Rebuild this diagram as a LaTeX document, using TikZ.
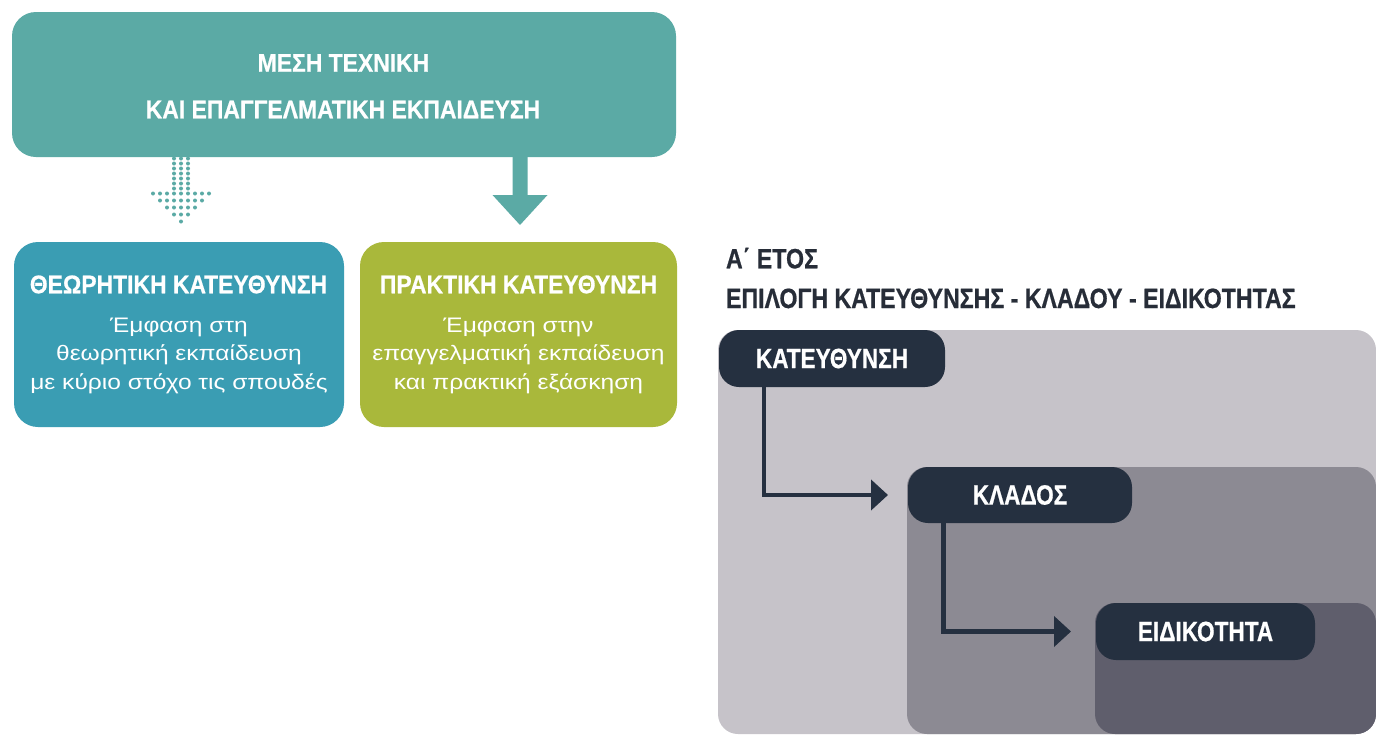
\documentclass[tikz,border=0pt]{standalone}
\usepackage{fontspec}
\setmainfont{Liberation Sans}
\newfontfamily\capsA{Liberation Sans}[FakeStretch=0.895,FakeBold=0.6]
\newfontfamily\capsB{Liberation Sans}[FakeStretch=0.83,FakeBold=0.6]
\newfontfamily\capsC{Liberation Sans}[FakeStretch=0.81,FakeBold=0.6]
\newfontfamily\bodyf{Liberation Sans}[FakeStretch=1.17]
\usetikzlibrary{arrows.meta}
\definecolor{topteal}{HTML}{5BAAA5}
\definecolor{theoblue}{HTML}{3A9DB3}
\definecolor{pracgreen}{HTML}{A9B83B}
\definecolor{darkbox}{HTML}{253040}
\definecolor{hdrtext}{HTML}{272D38}
\definecolor{panA}{HTML}{C6C3C9}
\definecolor{panB}{HTML}{8C8A93}
\definecolor{panC}{HTML}{5F5E6C}
\begin{document}
\begin{tikzpicture}[x=1pt,y=-1pt,
  every node/.style={inner sep=0pt, outer sep=0pt},
  cbox/.style={rounded corners=24pt, anchor=north west},
  ttl/.style={text=white, font=\capsA\bfseries\fontsize{25.6}{30}\selectfont, anchor=base},
  bdy/.style={text=white, font=\bodyf\fontsize{21}{25}\selectfont, anchor=base},
  hdr/.style={text=hdrtext, font=\capsB\bfseries\fontsize{27.9}{32}\selectfont, anchor=base west},
  dbox/.style={fill=darkbox, rounded corners=20pt, anchor=north west, text=white,
    font=\capsC\bfseries\fontsize{27.9}{32}\selectfont},
  conn/.style={draw=darkbox, line width=4.5pt, -{Triangle[length=17pt,width=30pt]}},
  dotp/.style={fill=topteal}
]
\useasboundingbox (0,0) rectangle (1376,734);
\fill[white] (0,0) rectangle (1376,734);

% top box
\node[cbox, fill=topteal, minimum width=664pt, minimum height=145pt] (top) at (12,12) {};
\node[ttl] (t1) at (343.5,71.7) {ΜΕΣΗ ΤΕΧΝΙΚΗ};
\node[ttl] (t2) at (343,118.3) {ΚΑΙ ΕΠΑΓΓΕΛΜΑΤΙΚΗ ΕΚΠΑΙΔΕΥΣΗ};

% lower boxes
\node[cbox, fill=theoblue, minimum width=330pt, minimum height=185pt] (theo) at (14,242) {};
\node[cbox, fill=pracgreen, minimum width=317pt, minimum height=185pt] (prac) at (360,242) {};

\node[ttl] (theoT) at (178.5,293.3) {ΘΕΩΡΗΤΙΚΗ ΚΑΤΕΥΘΥΝΣΗ};
\node[bdy] (theo1) at (179,332) {Έμφαση στη};
\node[bdy] (theo2) at (179,360.5) {θεωρητική εκπαίδευση};
\node[bdy] (theo3) at (179,389) {με κύριο στόχο τις σπουδές};

\node[ttl] (pracT) at (518.5,293.3) {ΠΡΑΚΤΙΚΗ ΚΑΤΕΥΘΥΝΣΗ};
\node[bdy] (prac1) at (518.5,332) {Έμφαση στην};
\node[bdy] (prac2) at (518.5,360.5) {επαγγελματική εκπαίδευση};
\node[bdy] (prac3) at (518.5,389) {και πρακτική εξάσκηση};

% solid arrow to practical
\coordinate (tipA) at (520,225);
\fill[topteal] (top.south -| tipA) ++(-7.5,0) -- ++(0,38) -- ++(-20,0) -- (tipA)
  -- ++(27.5,-30) -- ++(-20,0) -- ++(0,-38) -- cycle;

% dotted arrow to theoretical
\foreach \r in {0,...,6}{
  \foreach \c in {-1,0,1}{
    \fill[dotp] ({181+7*\c},{158.5+5*\r}) circle[radius=2pt];
  }
}
\foreach \k in {0,...,4}{
  \pgfmathtruncatemacro\nn{2*(4-\k)}
  \pgfmathtruncatemacro\hh{4-\k}
  \foreach \c in {0,...,\nn}{
    \fill[dotp] ({181+7*(\c-\hh)},{193.5+7*\k}) circle[radius=2pt];
  }
}

% right side header
\node[hdr] (year) at (726,268.3) {Α΄ ΕΤΟΣ};
\node[hdr] (choice) at (726,308) {ΕΠΙΛΟΓΗ ΚΑΤΕΥΘΥΝΣΗΣ - ΚΛΑΔΟΥ - ΕΙΔΙΚΟΤΗΤΑΣ};

% panels
\fill[panA, rounded corners=20pt] (718,330) rectangle (1376,734);
\fill[panB, rounded corners=20pt] (907,467) rectangle (1376,734);
\fill[panC, rounded corners=20pt] (1095,603) rectangle (1376,734);

% dark boxes
\node[dbox, minimum width=226pt, minimum height=57pt] (kat) at (719,330) {ΚΑΤΕΥΘΥΝΣΗ};
\node[dbox, minimum width=224pt, minimum height=56pt] (klad) at (908,467) {ΚΛΑΔΟΣ};
\node[dbox, minimum width=219pt, minimum height=57pt] (eid) at (1096,603) {ΕΙΔΙΚΟΤΗΤΑ};

% connectors
\draw[conn] ([xshift=45pt]kat.south west) |- ([xshift=-20pt]klad.west);
\draw[conn] ([xshift=35.5pt]klad.south west) |- ([xshift=-25pt]eid.west);
\end{tikzpicture}
\end{document}
